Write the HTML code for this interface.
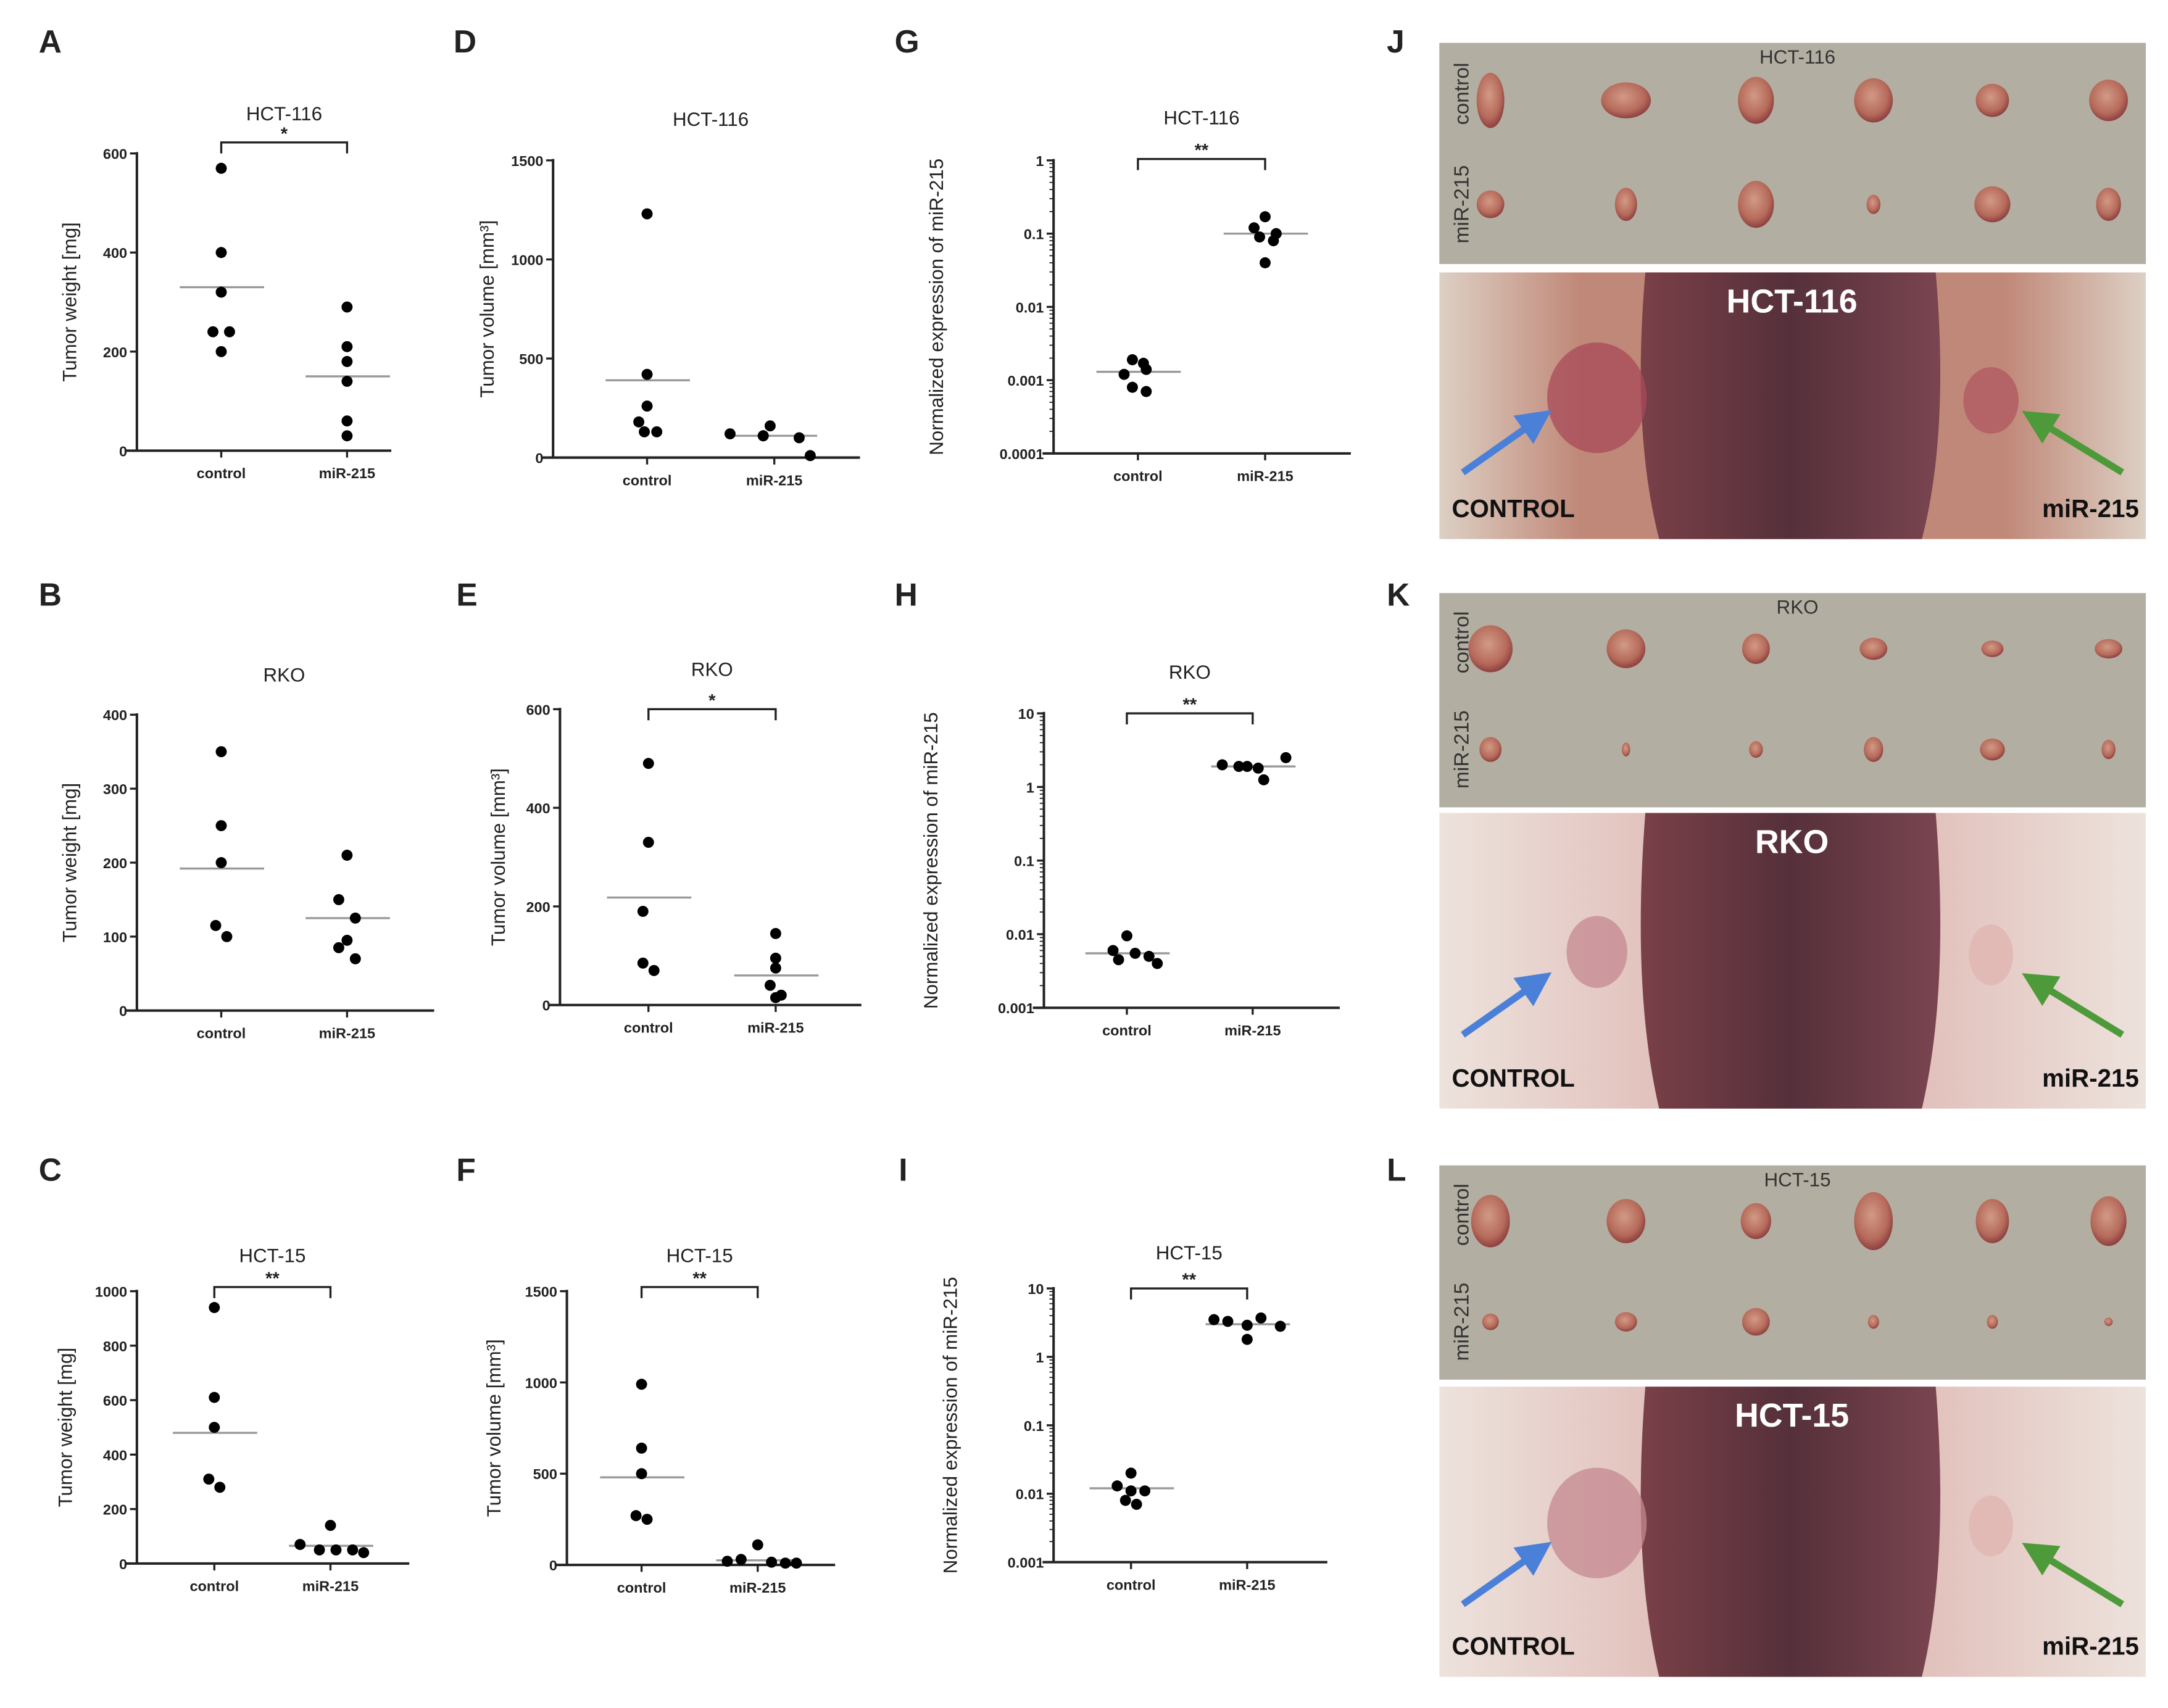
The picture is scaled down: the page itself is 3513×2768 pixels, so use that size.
<!DOCTYPE html>
<html><head><meta charset="utf-8">
<style>
html,body{margin:0;padding:0;background:#fff;}
svg{display:block;}
text{font-family:"Liberation Sans",sans-serif;}
</style></head>
<body>
<svg id="fig" width="3513" height="2768" viewBox="0 0 1568 1235.5" xmlns="http://www.w3.org/2000/svg">
<defs>
<radialGradient id="tum" cx="0.45" cy="0.4" r="0.6"><stop offset="0" stop-color="#d29a86"/><stop offset="0.7" stop-color="#b66a5a"/><stop offset="1" stop-color="#8e4040"/></radialGradient>
<linearGradient id="body1" x1="0" x2="1"><stop offset="0" stop-color="#7a4048"/><stop offset="0.5" stop-color="#55303a"/><stop offset="1" stop-color="#7a4550"/></linearGradient>
<linearGradient id="skin1" x1="0" x2="1"><stop offset="0" stop-color="#ddd0c4"/><stop offset="0.2" stop-color="#c08878"/><stop offset="0.8" stop-color="#c08878"/><stop offset="1" stop-color="#ddd0c4"/></linearGradient>
<linearGradient id="skin2" x1="0" x2="1"><stop offset="0" stop-color="#ede2dc"/><stop offset="0.3" stop-color="#e2c2bd"/><stop offset="0.7" stop-color="#e2c2bd"/><stop offset="1" stop-color="#ede2dc"/></linearGradient>
<clipPath id="cp0"><rect x="1041" y="197" width="511" height="193"/></clipPath>
<clipPath id="cp1"><rect x="1041" y="588" width="511" height="214"/></clipPath>
<clipPath id="cp2"><rect x="1041" y="1003" width="511" height="210"/></clipPath>
<marker id="ahB" markerWidth="5" markerHeight="5" refX="2.5" refY="2.5" orient="auto"><path d="M0,0 L5,2.5 L0,5z" fill="#4a80d8"/></marker>
<marker id="ahG" markerWidth="5" markerHeight="5" refX="2.5" refY="2.5" orient="auto"><path d="M0,0 L5,2.5 L0,5z" fill="#4e9a3a"/></marker>
</defs>
<g id="charts"></g>
<g id="photos"></g>
</svg>
<script>
// ---- data arrays ----
const categories = ["control", "miR-215"];
const panelLetters = ["A","D","G","B","E","H","C","F","I"];
const panelTitles = ["HCT-116","HCT-116","HCT-116","RKO","RKO","RKO","HCT-15","HCT-15","HCT-15"];
const sigLabels = ["*","","**","","*","**","**","**","**"];
const ticksA = [0,200,400,600];
const ticksD = [0,500,1000,1500];
const ticksG = [0.0001,0.001,0.01,0.1,1];
const ticksB = [0,100,200,300,400];
const ticksE = [0,200,400,600];
const ticksH = [0.001,0.01,0.1,1,10];
const ticksC = [0,200,400,600,800,1000];
const ticksF = [0,500,1000,1500];
const ticksI = [0.001,0.01,0.1,1,10];
const tickLabelsG = ["0.0001","0.001","0.01","0.1","1"];
const tickLabelsLog = ["0.001","0.01","0.1","1","10"];
const ctrlA = [570,400,320,240,240,200];
const mirA = [290,210,180,140,60,30];
const meanA = [330,150];
const ctrlD = [1230,420,260,180,130,130];
const mirD = [120,110,110,160,100,10];
const meanD = [390,110];
const ctrlG = [0.0019,0.0017,0.0012,0.0014,0.0008,0.0007];
const mirG = [0.17,0.12,0.1,0.09,0.08,0.04];
const meanG = [0.0013,0.1];
const ctrlB = [350,250,200,115,100];
const mirB = [210,150,125,95,85,70];
const meanB = [192,125];
const ctrlE = [490,330,190,85,70];
const mirE = [145,95,75,40,20,15];
const meanE = [218,60];
const ctrlH = [0.0095,0.006,0.0055,0.005,0.0045,0.004];
const mirH = [2.0,1.9,1.8,1.9,1.25,2.5];
const meanH = [0.0055,1.9];
const ctrlC = [940,610,500,310,280];
const mirC = [140,70,50,50,50,40];
const meanC = [480,65];
const ctrlF = [990,640,500,270,250];
const mirF = [110,30,20,15,10,10];
const meanF = [480,25];
const ctrlI = [0.02,0.013,0.011,0.011,0.008,0.007];
const mirI = [3.5,3.3,2.9,1.8,3.7,2.8];
const meanI = [0.012,3.0];

const NS="http://www.w3.org/2000/svg";
function mk(tag, attrs, parent, txt){const e=document.createElementNS(NS,tag);for(const k in attrs)e.setAttribute(k,attrs[k]);if(txt!==undefined)e.textContent=txt;parent.appendChild(e);return e;}
const charts=document.getElementById('charts');
const panels=[
 {ax:99,top:111,bot:326,right:283,cx:[160,251],lx:55,ly:30,lt:28,tY:82,br:103,ticks:ticksA,log:false,ctrl:ctrlA,mir:mirA,mean:meanA,yl:"Tumor weight [mg]",jc:[0,0,0,-6,6,0],jm:[0,0,0,0,0,0]},
 {ax:400,top:116,bot:331,right:622,cx:[468,560],lx:357,ly:30,lt:328,tY:86,br:0,ticks:ticksD,log:false,ctrl:ctrlD,mir:mirD,mean:meanD,yl:"Tumor volume [mm³]",jc:[0,0,0,-6,-2,7],jm:[-32,-8,-8,-3,18,26]},
 {ax:762,top:116,bot:328,right:977,cx:[823,915],lx:682,ly:30,lt:647,tY:85,br:115,ticks:ticksG,labels:tickLabelsG,log:true,ctrl:ctrlG,mir:mirG,mean:meanG,yl:"Normalized  expression of miR-215",jc:[-4,4,-10,6,-4,6],jm:[0,-8,8,-4,6,0]},
 {ax:99,top:517,bot:731,right:314,cx:[160,251],lx:55,ly:430,lt:28,tY:488,br:0,ticks:ticksB,log:false,ctrl:ctrlB,mir:mirB,mean:meanB,yl:"Tumor weight [mg]",jc:[0,0,0,-4,4],jm:[0,-6,6,0,-6,6]},
 {ax:405,top:513,bot:727,right:623,cx:[469,561],lx:365,ly:430,lt:330,tY:484,br:513,ticks:ticksE,log:false,ctrl:ctrlE,mir:mirE,mean:meanE,yl:"Tumor volume [mm³]",jc:[0,0,-4,-4,4],jm:[0,0,0,-4,4,0]},
 {ax:755,top:516,bot:729,right:969,cx:[815,906],lx:678,ly:430,lt:647,tY:486,br:516,ticks:ticksH,labels:tickLabelsLog,log:true,ctrl:ctrlH,mir:mirH,mean:meanH,yl:"Normalized  expression of miR-215",jc:[0,-10,6,16,-6,22],jm:[-22,-10,4,-4,8,24]},
 {ax:99,top:934,bot:1131,right:296,cx:[155,239],lx:52,ly:846,lt:28,tY:908,br:931,ticks:ticksC,log:false,ctrl:ctrlC,mir:mirC,mean:meanC,yl:"Tumor weight [mg]",jc:[0,0,0,-4,4],jm:[0,-22,-8,4,16,24]},
 {ax:410,top:934,bot:1132,right:604,cx:[464,548],lx:362,ly:846,lt:330,tY:908,br:931,ticks:ticksF,log:false,ctrl:ctrlF,mir:mirF,mean:meanF,yl:"Tumor volume [mm³]",jc:[0,0,0,-4,4],jm:[0,-12,-22,10,20,28]},
 {ax:762,top:932,bot:1130,right:960,cx:[818,902],lx:692,ly:846,lt:650,tY:906,br:932,ticks:ticksI,labels:tickLabelsLog,log:true,ctrl:ctrlI,mir:mirI,mean:meanI,yl:"Normalized  expression of miR-215",jc:[0,-10,0,10,-4,4],jm:[-24,-14,0,0,10,24]}
];
panels.forEach((p,i)=>{
  const g=mk('g',{},charts);
  
  
  const t0=p.ticks[0], t1=p.ticks[p.ticks.length-1];
  const y=v=> p.log ? p.bot-(Math.log10(v)-Math.log10(t0))/(Math.log10(t1)-Math.log10(t0))*(p.bot-p.top)
                    : p.bot-(v-t0)/(t1-t0)*(p.bot-p.top);
  const L=mk('text',{x:p.lt,y:p.ly+8,'font-size':23,'font-weight':'bold',fill:'#222'},g,panelLetters[i]);
  
  
  const T=mk('text',{x:(p.cx[0]+p.cx[1])/2,y:p.tY+5,'font-size':14,'text-anchor':'middle',fill:'#222'},g,panelTitles[i]);
  
  
  const yl=mk('text',{x:0,y:0,'font-size':14,'text-anchor':'middle',fill:'#222',transform:`translate(${p.lx},${(p.top+p.bot)/2}) rotate(-90)`},g,p.yl);
  
  
  const ya=mk('line',{x1:p.ax,y1:p.top-1,x2:p.ax,y2:p.bot,stroke:'#222','stroke-width':1.8},g);
  
  
  const xa=mk('line',{x1:p.ax-8,y1:p.bot,x2:p.right,y2:p.bot,stroke:'#222','stroke-width':1.8},g);
  
  
  p.ticks.forEach((tv,k)=>{
    const yy=y(tv);
    mk('line',{x1:p.ax-5,y1:yy,x2:p.ax,y2:yy,stroke:'#222','stroke-width':1.5},g);
    const tl=mk('text',{x:p.ax-7,y:yy+4,'font-size':10.5,'font-weight':'bold','text-anchor':'end',fill:'#222'},g,p.labels?p.labels[k]:String(tv));
    
    
    if(p.log && k<p.ticks.length-1){for(let m=2;m<10;m++){const ym=y(tv*m);mk('line',{x1:p.ax-3,y1:ym,x2:p.ax,y2:ym,stroke:'#222','stroke-width':0.8},g);}}
  });
  categories.forEach((c,k)=>{
    mk('line',{x1:p.cx[k],y1:p.bot,x2:p.cx[k],y2:p.bot+5,stroke:'#222','stroke-width':1.5},g);
    const xl=mk('text',{x:p.cx[k],y:p.bot+20,'font-size':10.5,'font-weight':'bold','text-anchor':'middle',fill:'#222'},g,c);
    
    
  });
  if(sigLabels[i]){
    const b=mk('path',{d:`M${p.cx[0]},${p.br+8} V${p.br} H${p.cx[1]} V${p.br+8}`,fill:'none',stroke:'#222','stroke-width':1.5},g);
    
    
    const s=mk('text',{x:(p.cx[0]+p.cx[1])/2,y:p.br-2,'font-size':13,'font-weight':'bold','text-anchor':'middle',fill:'#222'},g,sigLabels[i]);
    
    
  }
  [p.ctrl,p.mir].forEach((arr,k)=>{
    const m=mk('line',{x1:p.cx[k]-30,y1:y(p.mean[k]),x2:p.cx[k]+31,y2:y(p.mean[k]),stroke:'#999','stroke-width':1.5},g);
    
    
    const jit=k?p.jm:p.jc;
    arr.forEach((v,j)=>{
      const c=mk('circle',{cx:p.cx[k]+(jit[j]||0),cy:y(v),r:4,fill:'#000'},g);
      
      
    });
  });
});

// photos
const photos=document.getElementById('photos');
const photoSets=[
 {letter:"J",name:"HCT-116",y0:31,y1:191,b0:197,b1:390,ly:30},
 {letter:"K",name:"RKO",y0:429,y1:584,b0:588,b1:802,ly:430},
 {letter:"L",name:"HCT-15",y0:843,y1:998,b0:1003,b1:1213,ly:846}
];
const tumorX=[1078,1176,1270,1355,1441,1525];
const ctrlSizes=[[10,20],[18,13],[13,17],[14,16],[12,12],[14,15],[16,17],[14,14],[10,11],[10,8],[8,6],[10,7],[14,19],[14,16],[11,13],[14,21],[12,16],[13,18]];
const mirSizes=[[10,10],[8,12],[13,17],[5,7],[13,13],[9,12],[8,9],[3,5],[5,6],[7,9],[9,8],[5,7],[6,6],[8,7],[10,10],[4,5],[4,5],[3,3]];
photoSets.forEach((ps,i)=>{
  const g=mk('g',{},photos);
  
  
  const L=mk('text',{x:1003,y:ps.ly+8,'font-size':23,'font-weight':'bold',fill:'#222'},g,ps.letter);
  
  
  mk('rect',{x:1041,y:ps.y0,width:511,height:ps.y1-ps.y0,fill:'#b3aea2'},g);
  const tt=mk('text',{x:1300,y:ps.y0+15,'font-size':14,'text-anchor':'middle',fill:'#333'},g,ps.name);
  
  
  const hm=(ps.y1-ps.y0);
  const rc=mk('text',{x:0,y:0,'font-size':15,'text-anchor':'middle',fill:'#333',transform:`translate(${1062},${ps.y0+hm*0.23}) rotate(-90)`},g,'control');
  
  
  const rm=mk('text',{x:0,y:0,'font-size':15,'text-anchor':'middle',fill:'#333',transform:`translate(${1062},${ps.y0+hm*0.73}) rotate(-90)`},g,'miR-215');
  
  
  tumorX.forEach((tx,j)=>{
    const cs=ctrlSizes[i*6+j], ms=mirSizes[i*6+j];
    mk('ellipse',{cx:tx,cy:ps.y0+hm*0.26,rx:cs[0],ry:cs[1],fill:'url(#tum)'},g);
    mk('ellipse',{cx:tx,cy:ps.y0+hm*0.73,rx:ms[0],ry:ms[1],fill:'url(#tum)'},g);
  });
  const bh=ps.b1-ps.b0;
  const pg=mk('g',{'clip-path':`url(#cp${i})`},g);
  
  
  mk('rect',{x:1041,y:ps.b0,width:511,height:bh,fill:i===0?'url(#skin1)':'url(#skin2)'},pg);
  mk('path',{d:`M1190,${ps.b0} L1400,${ps.b0} Q1410,${ps.b0+bh*0.6} 1390,${ps.b1} L1200,${ps.b1} Q1180,${ps.b0+bh*0.6} 1190,${ps.b0} Z`,fill:'url(#body1)'},pg);
  mk('ellipse',{cx:1155,cy:ps.b0+bh*0.47,rx:i===1?22:36,ry:i===1?26:40,fill:i===0?'#a84a58':'#c48890',opacity:0.75},pg);
  mk('ellipse',{cx:1440,cy:ps.b0+bh*0.48,rx:i===0?20:16,ry:i===0?24:22,fill:i===0?'#b05a62':'#e0b5b2',opacity:0.8},pg);
  const ht=mk('text',{x:1296,y:ps.b0+29,'font-size':24,'font-weight':'bold','text-anchor':'middle',fill:'#fff'},g,ps.name);
  
  
  const ay=ps.b1-bh*0.25;
  mk('line',{x1:1058,y1:ay,x2:1112,y2:ay-38,stroke:'#4a80d8','stroke-width':5,'marker-end':'url(#ahB)'},g);
  mk('line',{x1:1535,y1:ay,x2:1473,y2:ay-38,stroke:'#4e9a3a','stroke-width':5,'marker-end':'url(#ahG)'},g);
  const cl=mk('text',{x:1050,y:ps.b1-16,'font-size':18,'font-weight':'bold',fill:'#111'},g,'CONTROL');
  
  
  const ml=mk('text',{x:1547,y:ps.b1-16,'font-size':18,'font-weight':'bold','text-anchor':'end',fill:'#111'},g,'miR-215');
  
  
});
</script>
</body></html>
